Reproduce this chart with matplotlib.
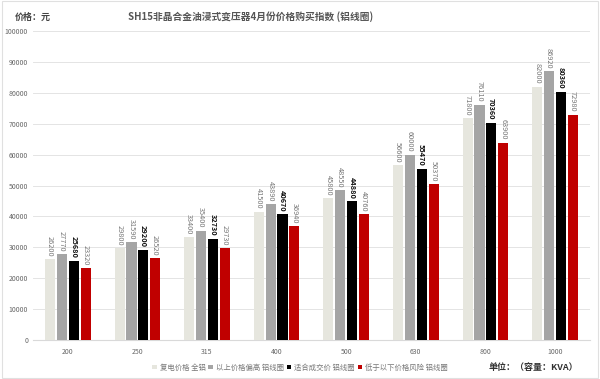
import matplotlib
matplotlib.use('Agg')
import matplotlib.pyplot as plt
import numpy as np

plt.rcParams['font.family'] = ['Noto Sans CJK SC', 'DejaVu Sans']

capacity = ['200', '250', '315', '400', '500', '630', '800', '1000']
series_names = ['复电价格 全铝', '以上价格偏高 铝线圈', '适合成交价 铝线圈', '低于以下价格风险 铝线圈']
full_al = [26200, 29800, 33400, 41500, 45800, 56600, 71800, 82000]
high = [27770, 31590, 35400, 43890, 48550, 60000, 76110, 86920]
fair = [25680, 29200, 32730, 40670, 44880, 55470, 70360, 80360]
risk = [23320, 26520, 29730, 36940, 40760, 50370, 63900, 72980]

colors = ['#e6e6de', '#a5a5a5', '#000000', '#c00000']
label_colors = ['#777777', '#777777', '#111111', '#777777']

fig = plt.figure(figsize=(6, 3.79), dpi=100)
ax = fig.add_axes([0.055, 0.103, 0.928, 0.815])

x = np.arange(len(capacity))
w = 0.145
step = 0.17
for i, vals in enumerate([full_al, high, fair, risk]):
    pos = x + (i - 1.5) * step
    ax.bar(pos, vals, width=w, color=colors[i], label=series_names[i], zorder=3)
    for p, v in zip(pos, vals):
        ax.text(p, v + 900, str(v), rotation=270, ha='center', va='bottom',
                fontsize=5.3, color=label_colors[i],
                fontweight='bold' if i == 2 else 'normal')

ax.set_xlim(-0.5, 7.5)
ax.set_ylim(0, 100000)
ax.set_yticks(np.arange(0, 100001, 10000))
ax.set_xticks(x)
ax.set_xticklabels(capacity)
ax.tick_params(axis='both', length=0, labelsize=5, colors='#666666')
ax.tick_params(axis='x', pad=6)
ax.grid(axis='y', color='#e4e4e4', linewidth=0.7, zorder=0)
for s in ['top', 'right', 'left']:
    ax.spines[s].set_visible(False)
ax.spines['bottom'].set_color('#d9d9d9')

fig.text(0.025, 0.955, '价格：元', fontsize=6.5, fontweight='bold', color='#444444', va='center')
fig.text(0.417, 0.955, 'SH15非晶合金油浸式变压器4月份价格购买指数 (铝线圈)', fontsize=7,
         fontweight='bold', color='#555555', ha='center', va='center')
fig.text(0.815, 0.03, '单位：（容量：KVA）', fontsize=6.5, fontweight='bold', color='#333333',
         ha='left', va='center')

fig.legend(loc='center', bbox_to_anchor=(0.5, 0.03), ncol=4, frameon=False, fontsize=5.3,
           handlelength=0.6, handleheight=0.6, handletextpad=0.4, columnspacing=0.4,
           labelcolor='#777777')

border = plt.Rectangle((0.003, 0.003), 0.994, 0.994, transform=fig.transFigure,
                       fill=False, edgecolor='#e0e0e0', linewidth=0.8)
fig.patches.append(border)

fig.savefig('out.png', dpi=100)
